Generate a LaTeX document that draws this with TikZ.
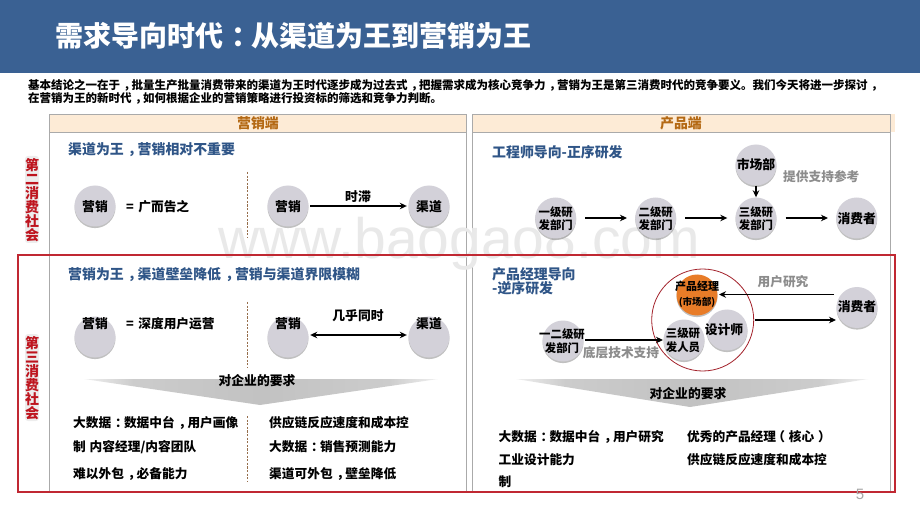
\documentclass[tikz,border=0pt]{standalone}
\usepackage{fontspec}
\setmainfont{Noto Sans CJK SC}
\newfontfamily\latinf{Liberation Sans}
\usetikzlibrary{arrows.meta,shadows,calc}
\definecolor{hdrblue}{RGB}{58,97,147}
\definecolor{subblue}{RGB}{47,85,135}
\definecolor{bandfill}{RGB}{253,235,214}
\definecolor{bandtext}{RGB}{180,105,20}
\definecolor{discfill}{RGB}{211,209,217}
\definecolor{boxred}{RGB}{192,40,50}
\definecolor{sidered}{RGB}{190,20,30}
\definecolor{dashbrown}{RGB}{150,110,75}
\definecolor{panelgray}{RGB}{170,170,170}
\definecolor{notegray}{RGB}{140,140,140}
\definecolor{orangedisc}{RGB}{232,124,40}
\pgfdeclarehorizontalshading{bannershade}{100bp}{color(0bp)=(black!6); color(25bp)=(black!6); color(32bp)=(black!20); color(50bp)=(black!24); color(68bp)=(black!20); color(75bp)=(black!6); color(100bp)=(black!6)}
\newcommand{\cmm}{\hspace{.3em}，\hspace{-.3em}}
\newcommand{\cln}{\hspace{.3em}：\hspace{-.3em}}
\newcommand{\lpn}{\hspace{-.3em}（\hspace{.3em}}
\newcommand{\rpn}{\hspace{.3em}）\hspace{-.3em}}
\newcommand{\fs}[1]{\fontsize{#1}{#1}\selectfont}
\tikzset{
  disc/.style={circle,draw=none,fill=discfill,minimum size=41pt,inner sep=0pt,
    drop shadow={shadow xshift=0pt,shadow yshift=-1.6pt,opacity=.35,fill=black!70}},
  lbl/.style={inner sep=0pt,font=\fs{12.8}\bfseries,text=black},
  small/.style={inner sep=0pt,font=\fs{11.4}\bfseries,text=black,align=center},
  note/.style={inner sep=0pt,font=\fs{12.7}\bfseries,text=notegray},
  listitem/.style={inner sep=0pt,anchor=west,font=\fs{12.7}\bfseries,text=black},
  subhead/.style={inner sep=0pt,anchor=west,font=\fs{13.9}\bfseries,text=subblue},
  bandlabel/.style={inner sep=0pt,font=\fs{13.9}\bfseries,text=bandtext},
  sidelabel/.style={inner sep=0pt,font=\fs{14}\bfseries,text=sidered,align=center},
  conn/.style={draw=black,line width=1.25pt,-{Stealth[length=7pt,width=6.5pt]}},
  divider/.style={draw=dashbrown,line width=.9pt,dash pattern=on 2.2pt off 1.4pt},
  panel/.style={draw=panelgray,line width=.9pt},
  banner/.style={shading=bannershade,draw=none},
  halo/.style={fill=black,opacity=.07,draw=none,rounded corners=3pt}
}
\begin{document}
\begin{tikzpicture}[x=1pt,y=-1pt]
\useasboundingbox (0,0) rectangle (920,518);
\fill[white] (0,0) rectangle (920,518);
% header
\fill[hdrblue] (0,0) rectangle (920,73);
\node[inner sep=0pt,anchor=west,text=white,font=\fs{28}\bfseries] (title) at (55,36) {需求导向时代\cln 从渠道为王到营销为王};
\node[inner sep=0pt,anchor=west,font=\fs{11.5}\bfseries] (introa) at (28,85) {基本结论之一在于\cmm 批量生产批量消费带来的渠道为王时代逐步成为过去式\cmm 把握需求成为核心竞争力\cmm 营销为王是第三消费时代的竞争要义。我们今天将进一步探讨\cmm};
\node[inner sep=0pt,anchor=west,font=\fs{11.5}\bfseries] (introb) at (28,98) {在营销为王的新时代\cmm 如何根据企业的营销策略进行投资标的筛选和竞争力判断。};
% panels
\fill[bandfill] (49,114) rectangle (466,132);
\fill[bandfill] (472,114) rectangle (895,132);
\draw[panel] (49,492) -- (49,114) -- (466,114) -- (466,492);
\draw[panel] (49,132) -- (466,132);
\draw[panel] (472,492) -- (472,114) -- (890,114) -- (890,492);
\draw[panel] (472,132) -- (890,132);
\node[bandlabel] (bandL) at (258,123) {营销端};
\node[bandlabel] (bandR) at (681,123) {产品端};
% watermark
\node[inner sep=0pt,anchor=base west,font=\latinf\fs{57},text=gray!17] (wm) at (218,259) {www.baogao8.com};
% red frame
\draw[boxred,line width=1.1pt] (18,255) rectangle (895,492);
% side labels
\fill[halo] (25,156) rectangle (39,243);
\fill[halo] (25,334) rectangle (39,421);
\node[sidelabel] (sideA) at (32,200) {第\\二\\消\\费\\社\\会};
\node[sidelabel] (sideB) at (32,378) {第\\三\\消\\费\\社\\会};
% subheads
\node[subhead] (subA) at (68,150) {渠道为王\cmm 营销相对不重要};
\node[subhead] (subB) at (68,275) {营销为王\cmm 渠道壁垒降低\cmm 营销与渠道界限模糊};
\node[subhead] (subC) at (492,152) {工程师导向-正序研发};
\node[subhead] (subD) at (492,274) {产品经理导向};
\node[subhead] (subE) at (492,288) {-逆序研发};
% left upper
\node[disc] (m1) at (95,206) {};
\node[lbl] at (95,207) {营销};
\node[inner sep=0pt,anchor=west,font=\fs{12.7}\bfseries] (eq1) at (126,207) {=\hspace{.35em}广而告之};
\draw[divider] (247.5,172) -- (247.5,238);
\node[disc] (m2) at (288,206) {};
\node[lbl] at (288,207) {营销};
\node[disc] (c2) at (429,206) {};
\node[lbl] at (429,207) {渠道};
\draw[conn,shorten <=1.5pt,shorten >=1.5pt] (m2) -- (c2);
\node[lbl] (lagl) at (358,197) {时滞};
% left lower
\node[disc] (m3) at (95,337) {};
\node[lbl] at (95,324) {营销};
\node[inner sep=0pt,anchor=west,font=\fs{12.7}\bfseries] (eq2) at (126,324) {=\hspace{.35em}深度用户运营};
\draw[divider] (247.5,302) -- (247.5,367);
\node[disc] (m4) at (288,337) {};
\node[lbl] at (288,324) {营销};
\node[disc] (c4) at (429,337) {};
\node[lbl] at (429,324) {渠道};
\draw[conn,{Stealth[length=7pt,width=6.5pt]}-{Stealth[length=7pt,width=6.5pt]},shorten <=1.5pt,shorten >=1.5pt] (m4.east |- 0,335) -- (c4.west |- 0,335);
\node[lbl] (syncl) at (358,316) {几乎同时};
\path[banner] (84,379) -- (438,379) -- (260,405) -- cycle;
\node[lbl] (reqL) at (257,381) {对企业的要求};
\draw[divider] (247.5,416) -- (247.5,481);
\node[listitem] (la) at (73,423) {大数据\cln 数据中台\cmm 用户画像};
\node[listitem] (lb) at (73,447) {制\hspace{.3em}内容经理/内容团队};
\node[listitem] (lc) at (73,474) {难以外包\cmm 必备能力};
\node[listitem] (ra) at (269,423) {供应链反应速度和成本控};
\node[listitem] (rb) at (269,447) {大数据\cln 销售预测能力};
\node[listitem] (rc) at (269,474) {渠道可外包\cmm 壁垒降低};
% right upper
\node[disc] (d1) at (555.7,218) {};
\node[small] at (555.7,219) {一级研\\[1.5pt]发部门};
\node[disc] (d2) at (655.7,218) {};
\node[small] at (655.7,219) {二级研\\[1.5pt]发部门};
\node[disc] (d3) at (756,218) {};
\node[small] at (756,219) {三级研\\[1.5pt]发部门};
\node[disc] (d4) at (856.7,218) {};
\node[lbl] at (856.7,219) {消费者};
\node[disc] (mk) at (756,165) {};
\node[lbl] at (756,165) {市场部};
\draw[conn,shorten <=9pt,shorten >=8pt] (d1) -- (d2);
\draw[conn,shorten <=9pt,shorten >=8pt] (d2) -- (d3);
\draw[conn,shorten <=9pt,shorten >=8pt] (d3) -- (d4);
\draw[conn] (mk) -- (d3);
\node[note,anchor=west] (ref) at (783,177) {提供支持参考};
% right lower
\draw[boxred!85!black,line width=.8pt,fill=white] (702.7,320) circle (51);
\node[disc] (e1) at (563,341) {};
\node[small] at (562,341.5) {一二级研\\[2.6pt]发部门};
\node[disc] (e3) at (684,340) {};
\node[disc] (e4) at (727,330) {};
\node[disc,fill=orangedisc] (pm) at (697,295) {};
\node[small] at (683,340.5) {三级研\\[2.6pt]发人员};
\node[lbl] at (724,330) {设计师};
\node[small,font=\fs{11}\bfseries] at (697,286) {产品经理};
\node[small,font=\fs{9.6}\bfseries] at (697,302.5) {(市场部)};
\node[disc] (e5) at (857,307.5) {};
\node[lbl] at (857,307) {消费者};
\coordinate (cA) at (585,340);
\coordinate (cB) at (663,340);
\coordinate (cC) at (834,294.5);
\coordinate (cD) at (719,294.5);
\coordinate (cE) at (755,320);
\coordinate (cF) at (836,320);
\draw[conn] (cA) -- (cB);
\draw[conn] (cC) -- (cD);
\draw[conn] (cE) -- (cF);
\node[note] (bt) at (621,353) {底层技术支持};
\node[note] (ur) at (783,282) {用户研究};
\path[banner] (516,379) -- (868,379) -- (690,407) -- cycle;
\node[lbl] (reqR) at (688,394) {对企业的要求};
\node[listitem] (pa) at (498.5,437) {大数据\cln 数据中台\cmm 用户研究};
\node[listitem] (pb) at (498.5,460) {工业设计能力};
\node[listitem] (pc) at (498.5,482) {制};
\node[listitem] (qa) at (687,437) {优秀的产品经理\lpn 核心\rpn};
\node[listitem] (qb) at (687,460) {供应链反应速度和成本控};
\node[inner sep=0pt,font=\latinf\fs{15},text=gray!70] (pg) at (860,494) {5};
\end{tikzpicture}
\end{document}
